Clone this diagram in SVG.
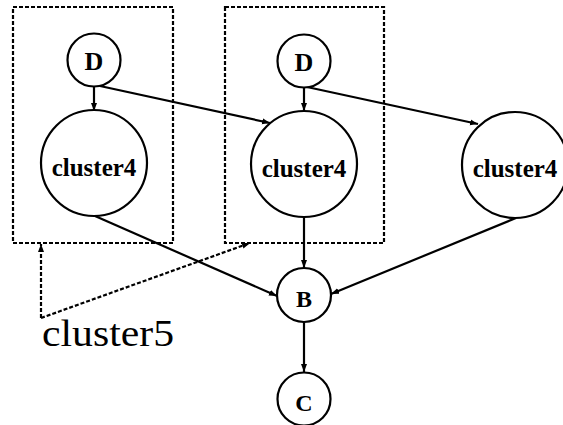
<svg xmlns="http://www.w3.org/2000/svg" width="563" height="425" viewBox="0 0 563 425">
<style>
.node circle{fill:#fff;stroke:#000;stroke-width:2.2}
.node text{font-weight:bold;text-anchor:middle;fill:#000}
.edge{stroke:#000;stroke-width:2.2;fill:none;marker-end:url(#ah)}
.clbox{fill:none;stroke:#000;stroke-width:2.2;stroke-dasharray:4 2}
.dedge{stroke:#000;stroke-width:2.2;stroke-dasharray:4 2;fill:none;marker-end:url(#ah)}
</style>
<defs>
<marker id="ah" markerUnits="userSpaceOnUse" markerWidth="8" markerHeight="8" viewBox="0 0 8 6" refX="8" refY="3" orient="auto">
<path d="M0,0 L8,3 L0,6 Z" fill="#000"/>
</marker>
</defs>
<rect width="563" height="425" fill="#fff"/>
<g id="cluster5" font-family="Liberation Serif, serif">
<rect class="clbox" x="13" y="7" width="160" height="236"/>
<rect class="clbox" x="225" y="7" width="159" height="236"/>
<text x="42" y="346" font-size="37" textLength="132" lengthAdjust="spacingAndGlyphs">cluster5</text>
</g>
<g id="connectors">
<line class="edge" x1="94" y1="87" x2="94" y2="111"/>
<line class="edge" x1="100" y1="86" x2="270" y2="123"/>
<line class="edge" x1="304" y1="88" x2="304" y2="111"/>
<line class="edge" x1="307" y1="87" x2="478" y2="124"/>
<line class="edge" x1="95" y1="216" x2="277" y2="296"/>
<line class="edge" x1="304" y1="217" x2="304" y2="268"/>
<line class="edge" x1="516" y1="218" x2="331" y2="294"/>
<line class="edge" x1="304" y1="322" x2="304" y2="372"/>
<path class="dedge" d="M41,318 L41,244"/>
<path class="dedge" d="M41,318 L250,243"/>
</g>
<g id="D1" class="node" font-family="Liberation Serif, serif"><circle cx="94" cy="60" r="26.5"/><text x="94" y="70" font-size="26">D</text></g>
<g id="D2" class="node" font-family="Liberation Serif, serif"><circle cx="304" cy="61" r="26.5"/><text x="304" y="71" font-size="26">D</text></g>
<g id="cluster4a" class="node" font-family="Liberation Serif, serif"><circle cx="94" cy="163" r="53"/><text x="94" y="176" font-size="25">cluster4</text></g>
<g id="cluster4b" class="node" font-family="Liberation Serif, serif"><circle cx="304" cy="164" r="53"/><text x="304" y="177" font-size="25">cluster4</text></g>
<g id="cluster4c" class="node" font-family="Liberation Serif, serif"><circle cx="515" cy="165" r="53"/><text x="515" y="177" font-size="25">cluster4</text></g>
<g id="B" class="node" font-family="Liberation Serif, serif"><circle cx="304" cy="295" r="27"/><text x="304" y="307" font-size="24">B</text></g>
<g id="C" class="node" font-family="Liberation Serif, serif"><circle cx="304" cy="399" r="26.5"/><text x="304" y="411" font-size="24">C</text></g>
</svg>
